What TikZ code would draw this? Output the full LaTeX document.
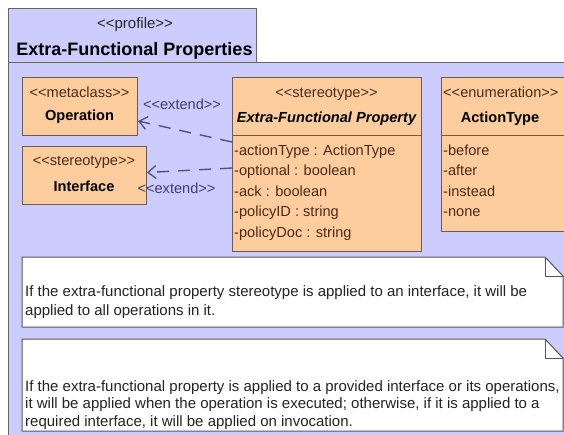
\documentclass[tikz,border=0pt]{standalone}
\usepackage{fontspec}
\setmainfont{Liberation Sans}[Ligatures=TeXOff]
\usetikzlibrary{arrows.meta}

\definecolor{pkgfill}{RGB}{204,204,255}
\definecolor{pkgline}{RGB}{100,100,115}
\definecolor{boxorange}{RGB}{253,205,158}
\definecolor{boxline}{RGB}{105,92,85}
\definecolor{boxtext}{RGB}{80,40,25}
\definecolor{deptext}{RGB}{60,60,110}
\definecolor{depline}{RGB}{80,80,125}
\definecolor{notetext}{RGB}{35,35,35}
\definecolor{noteline}{RGB}{85,85,90}

\begin{document}
\begin{tikzpicture}[
  x=1pt, y=-1pt,
  pkgshape/.style={draw=pkgline, fill=pkgfill, line width=1pt},
  classbox/.style={draw=boxline, fill=boxorange, line width=1pt, inner sep=0pt,
    anchor=north west},
  notebox/.style={draw=noteline, fill=white, line width=1pt},
  stereo/.style={font=\fontsize{14.6}{17}\selectfont, text=boxtext, inner sep=0pt, anchor=base},
  cname/.style={font=\fontsize{14.6}{17}\selectfont\bfseries, text=black, inner sep=0pt, anchor=base},
  attr/.style={font=\fontsize{14.6}{17}\selectfont, text=boxtext, inner sep=0pt, anchor=base west},
  deplabel/.style={font=\fontsize{14.6}{17}\selectfont, text=deptext, inner sep=0pt, anchor=base},
  extendarrow/.style={draw=depline, line width=1.4pt, dash pattern=on 12pt off 9pt,
    -{Straight Barb[length=8pt,width=13pt,line width=1.3pt]}},
  noteline/.style={font=\fontsize{15}{18}\selectfont, text=notetext, inner sep=0pt, anchor=base west},
]
% canvas
\fill[white] (0,0) rectangle (564,434);
\clip (0,0) rectangle (564,434);

% profile package: tab and body
\draw[pkgshape] (8,62) rectangle (580,450);
\draw[pkgshape] (8,8) rectangle (256,62);
\node[font=\fontsize{15}{18}\selectfont, text=black!85, inner sep=0pt, anchor=base]
  (pkgstereo) at (135,28) {<<profile>>};
\node[font=\fontsize{18}{21}\selectfont\bfseries, inner sep=0pt, anchor=base]
  (pkgname) at (134.5,55.5) {Extra-Functional Properties};

% metaclass Operation
\node[classbox, minimum width=115pt, minimum height=58pt] (op) at (22,77) {};
\node[stereo] (opst) at (79.5,97) {<<metaclass>>};
\node[cname] (opnm) at (79.5,120) {Operation};

% stereotype Interface
\node[classbox, minimum width=124pt, minimum height=58pt] (intf) at (22,146) {};
\node[stereo] (intfst) at (84,165) {<<stereotype>>};
\node[cname] (intfnm) at (84,191) {Interface};

% stereotype Extra-Functional Property
\node[classbox, minimum width=189pt, minimum height=174pt] (efp) at (232,77) {};
\draw[boxline, line width=1pt] (efp.west |- 0,135) -- (efp.east |- 0,135);
\node[stereo] (efpst) at (326.5,97) {<<stereotype>>};
\node[cname, font=\fontsize{14.6}{17}\selectfont\bfseries\itshape] (efpnm) at (326.5,122)
  {Extra-Functional Property};
\node[attr] (a1) at (234,155) {-actionType : ActionType};
\node[attr] (a2) at (234,175) {-optional : boolean};
\node[attr] (a3) at (234,196) {-ack : boolean};
\node[attr] (a4) at (234,216.5) {-policyID : string};
\node[attr] (a5) at (234,237) {-policyDoc : string};

% enumeration ActionType
\node[classbox, minimum width=135pt, minimum height=154pt] (enum) at (441,77) {};
\draw[boxline, line width=1pt] (enum.west |- 0,135) -- (enum.east |- 0,135);
\node[stereo, anchor=base west] (enumst) at (443,97) {<<enumeration>>};
\node[cname] (enumnm) at (500,122) {ActionType};
\node[attr] (e1) at (443,155) {-before};
\node[attr] (e2) at (443,175) {-after};
\node[attr] (e3) at (443,196) {-instead};
\node[attr] (e4) at (443,216.5) {-none};

% extension dependencies
\draw[extendarrow] ([yshift=-65pt]efp.north west) -- ([yshift=15pt]op.south east);
\node[deplabel] (ext1) at (182,109.5) {<<extend>>};
\draw[extendarrow] ([yshift=-91pt]efp.north west) -- ([yshift=3pt]intf.east);
\node[deplabel] (ext2) at (176.5,193) {<<extend>>};

% note on interfaces
\draw[notebox] (22,257) -- (545,257) -- (563,276) -- (563,327) -- (22,327) -- cycle;
\draw[draw=noteline, line width=1pt] (545,257) -- (545,276) -- (563,276);
\node[noteline] (n1a) at (25,296.5)
  {If the extra-functional property stereotype is applied to an interface, it will be};
\node[noteline] (n1b) at (25,315)
  {applied to all operations in it.};

% note on provided / required interfaces
\draw[notebox] (22,339) -- (545,339) -- (563,358) -- (563,431) -- (22,431) -- cycle;
\draw[draw=noteline, line width=1pt] (545,339) -- (545,358) -- (563,358);
\node[noteline] (n2a) at (25,391)
  {If the extra-functional property is applied to a provided interface or its operations,};
\node[noteline] (n2b) at (25,408.5)
  {it will be applied when the operation is executed; otherwise, if it is applied to a};
\node[noteline] (n2c) at (25,426)
  {required interface, it will be applied on invocation.};
\end{tikzpicture}
\end{document}
